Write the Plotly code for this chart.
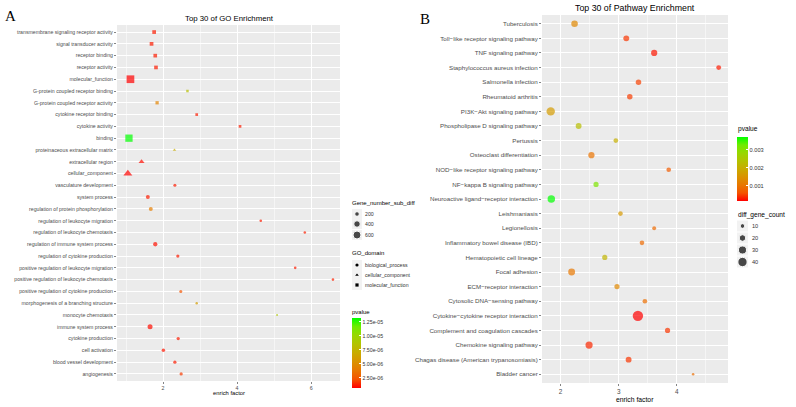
import plotly.graph_objects as go

W, H = 796, 407

# ---------------- Panel A: GO enrichment ----------------
go_terms = [
    "transmembrane signaling receptor activity", "signal transducer activity", "receptor binding",
    "receptor activity", "molecular_function", "G-protein coupled receptor binding",
    "G-protein coupled receptor activity", "cytokine receptor binding", "cytokine activity", "binding",
    "proteinaceous extracellular matrix", "extracellular region", "cellular_component",
    "vasculature development", "system process", "regulation of protein phosphorylation",
    "regulation of leukocyte migration", "regulation of leukocyte chemotaxis",
    "regulation of immune system process", "regulation of cytokine production",
    "positive regulation of leukocyte migration", "positive regulation of leukocyte chemotaxis",
    "positive regulation of cytokine production", "morphogenesis of a branching structure",
    "monocyte chemotaxis", "immune system process", "cytokine production", "cell activation",
    "blood vessel development", "angiogenesis",
]
go_enrich = [1.76, 1.69, 1.79, 1.81, 1.12, 2.66, 1.84, 2.91, 4.08, 1.08,
             2.31, 1.42, 1.05, 2.32, 1.59, 1.67, 4.64, 5.83, 1.79, 2.40,
             5.57, 6.59, 2.48, 2.91, 5.08, 1.65, 2.41, 2.01, 2.32, 2.49]
go_genes = [130, 130, 125, 125, 560, 60, 100, 68, 68, 500,
            85, 255, 570, 85, 150, 150, 63, 60, 175, 100,
            63, 60, 85, 58, 25, 235, 100, 115, 100, 100]
go_pvalue = [1.2e-6, 1.2e-6, 1.2e-6, 1.2e-6, 7.0e-7, 8.2e-6, 4.5e-6, 1.2e-6, 1.2e-6, 1.32e-5,
             7.0e-6, 9.0e-7, 7.5e-7, 1.2e-6, 1.2e-6, 4.2e-6, 1.2e-6, 1.3e-6, 1.0e-6, 1.2e-6,
             1.2e-6, 1.3e-6, 2.3e-6, 6.0e-6, 8.8e-6, 9.0e-7, 1.2e-6, 1.1e-6, 1.2e-6, 1.8e-6]
go_domain = (["molecular_function"] * 10 + ["cellular_component"] * 3 + ["biological_process"] * 17)

go_domain_levels = ["biological_process", "cellular_component", "molecular_function"]
go_size_breaks = [200, 400, 600]
go_p_ticks = [2.5e-6, 5.0e-6, 7.5e-6, 1.0e-5, 1.25e-5]
go_p_labels = ["2.50e-06", "5.00e-06", "7.50e-06", "1.00e-05", "1.25e-05"]

# ---------------- Panel B: KEGG pathway enrichment ----------------
kegg_terms = [
    "Tuberculosis", "Toll\u2212like receptor signaling pathway", "TNF signaling pathway",
    "Staphylococcus aureus infection", "Salmonella infection", "Rheumatoid arthritis",
    "PI3K\u2212Akt signaling pathway", "Phospholipase D signaling pathway", "Pertussis",
    "Osteoclast differentiation", "NOD\u2212like receptor signaling pathway",
    "NF\u2212kappa B signaling pathway", "Neuroactive ligand\u2212receptor interaction",
    "Leishmaniasis", "Legionellosis", "Inflammatory bowel disease (IBD)",
    "Hematopoietic cell lineage", "Focal adhesion", "ECM\u2212receptor interaction",
    "Cytosolic DNA\u2212sensing pathway", "Cytokine\u2212cytokine receptor interaction",
    "Complement and coagulation cascades", "Chemokine signaling pathway",
    "Chagas disease (American trypanosomiasis)", "Bladder cancer",
]
kegg_enrich = [2.24, 3.13, 3.61, 4.72, 3.34, 3.19, 1.83, 2.31, 2.95, 2.53,
               3.86, 2.61, 1.84, 3.03, 3.61, 3.40, 2.76, 2.19, 2.97, 3.45,
               3.33, 3.84, 2.49, 3.17, 4.28]
kegg_count = [20, 16, 18, 11, 14, 14, 33, 16, 10, 18,
              10, 12.5, 26, 10, 7, 10, 12.5, 22, 12.5, 10,
              50, 12.5, 24, 16, 3]
kegg_pvalue = [0.00133, 0.00044, 0.00027, 0.00030, 0.00050, 0.00048, 0.00165, 0.00230, 0.00200, 0.00100,
               0.00070, 0.00310, 0.00370, 0.00160, 0.00087, 0.00087, 0.00210, 0.00105, 0.00130, 0.00094,
               0.00016, 0.00044, 0.00037, 0.00044, 0.00094]

kegg_size_breaks = [10, 20, 30, 40]
kegg_p_ticks = [0.001, 0.002, 0.003]
kegg_p_labels = ["0.001", "0.002", "0.003"]

# ---------------- styling ----------------
FONT = "Liberation Sans, Arial, sans-serif"
GRAY_TXT = "#4D4D4D"
PANEL_BG = "#EBEBEB"
SCALE = [[0.0, "#FF0000"], [0.125, "#F45300"], [0.25, "#E87700"], [0.375, "#DA9200"],
         [0.5, "#C9AB00"], [0.625, "#B3C200"], [0.75, "#98D700"], [0.875, "#70EB00"],
         [1.0, "#00FF00"]]
SYMBOLS = {"biological_process": "circle", "cellular_component": "triangle-up",
           "molecular_function": "square"}
# plotly area mode: diameter = sqrt(2 * v / sizeref)
SIZEREF_A = 2 * 600 / 8.0 ** 2
SIZEREF_B = 2 * 40 / 9.3 ** 2


def px(x):
    return x / W


def py(y):
    return 1 - y / H


fig = go.Figure()

# Panel A points
for dom in go_domain_levels:
    idx = [i for i, d in enumerate(go_domain) if d == dom]
    fig.add_trace(go.Scatter(
        x=[go_enrich[i] for i in idx], y=[go_terms[i] for i in idx],
        mode="markers", xaxis="x", yaxis="y", showlegend=False,
        marker=dict(symbol=SYMBOLS[dom], size=[go_genes[i] for i in idx],
                    sizemode="area", sizeref=SIZEREF_A, sizemin=1,
                    color=[go_pvalue[i] for i in idx], coloraxis="coloraxis",
                    line=dict(width=0)),
    ))

# Panel B points
fig.add_trace(go.Scatter(
    x=kegg_enrich, y=kegg_terms, mode="markers", xaxis="x2", yaxis="y2", showlegend=False,
    marker=dict(symbol="circle", size=kegg_count, sizemode="area", sizeref=SIZEREF_B, sizemin=1,
                color=kegg_pvalue, coloraxis="coloraxis2", line=dict(width=0)),
))

shapes = []
annotations = []


def key_bg(xc, yc, s=10):
    shapes.append(dict(type="rect", xref="x3", yref="y3", x0=xc - s / 2, x1=xc + s / 2,
                       y0=yc - s / 2, y1=yc + s / 2, fillcolor="#F2F2F2", line=dict(width=0),
                       layer="below"))


def txt(x, y, s, size, color="black", xanchor="left", family=FONT):
    annotations.append(dict(x=px(x), y=py(y), xref="paper", yref="paper", text=s,
                            showarrow=False, xanchor=xanchor, yanchor="middle",
                            font=dict(family=family, size=size, color=color)))


# A: size legend
a_size_y = [214, 224, 235]
for yy in a_size_y:
    key_bg(357, yy, 10)
fig.add_trace(go.Scatter(x=[357] * 3, y=a_size_y, mode="markers", xaxis="x3", yaxis="y3",
                         showlegend=False, hoverinfo="skip",
                         marker=dict(size=go_size_breaks, sizemode="area", sizeref=SIZEREF_A,
                                     color="black", symbol="circle")))
txt(350, 203, "Gene_number_sub_diff", 6)
for yy, b in zip(a_size_y, go_size_breaks):
    txt(363, yy, str(b), 5.2, "#333333")

# A: shape legend
a_dom_y = [265, 275, 285]
for yy in a_dom_y:
    key_bg(357, yy, 10)
fig.add_trace(go.Scatter(x=[357] * 3, y=a_dom_y, mode="markers", xaxis="x3", yaxis="y3",
                         showlegend=False, hoverinfo="skip",
                         marker=dict(size=3.2, color="black",
                                     symbol=[SYMBOLS[d] for d in go_domain_levels])))
txt(350, 253, "GO_domain", 6)
for yy, d in zip(a_dom_y, go_domain_levels):
    txt(363, yy, d, 5.2, "#333333")

txt(350, 312, "pvalue", 6)

# B: size legend
b_size_y = [226, 238, 250, 262]
for yy in b_size_y:
    key_bg(742.5, yy, 11)
fig.add_trace(go.Scatter(x=[742.5] * 4, y=b_size_y, mode="markers", xaxis="x3", yaxis="y3",
                         showlegend=False, hoverinfo="skip",
                         marker=dict(size=kegg_size_breaks, sizemode="area", sizeref=SIZEREF_B,
                                     color="black", symbol="circle")))
txt(736, 215, "diff_gene_count", 6.6)
for yy, b in zip(b_size_y, kegg_size_breaks):
    txt(750, yy, str(b), 5.6, "#333333")
txt(736, 129, "pvalue", 6.6)

# Panel titles, axis titles, panel letters
txt(229, 18, "Top 30 of GO Enrichment", 7.8, "black", "center")
txt(635, 7.5, "Top 30 of Pathway Enrichment", 8.8, "black", "center")
txt(229, 393, "enrich factor", 5.8, "black", "center")
txt(635, 399, "enrich factor", 6.8, "black", "center")
txt(3, 16, "A", 15, "black", "left", "Liberation Serif, Times New Roman, serif")
txt(418, 19, "B", 15, "black", "left", "Liberation Serif, Times New Roman, serif")

for xr, yr in (("x", "y"), ("x2", "y2")):
    shapes.append(dict(type="rect", xref=xr + " domain", yref=yr + " domain", x0=0, x1=1, y0=0, y1=1,
                       fillcolor=PANEL_BG, line=dict(width=0), layer="below"))

nA, nB = len(go_terms), len(kegg_terms)

common_x = dict(showgrid=True, gridcolor="white", gridwidth=1, zeroline=False, showline=False,
                ticks="outside", ticklen=2, tickwidth=0.6, tickcolor="#333333")
common_y = dict(type="category", showgrid=True, gridcolor="white", gridwidth=1, zeroline=False,
                showline=False, ticks="outside", ticklen=2, tickwidth=0.6, tickcolor="#333333")

fig.update_layout(
    width=W, height=H, autosize=False,
    margin=dict(l=0, r=0, t=0, b=0),
    paper_bgcolor="white", plot_bgcolor="rgba(0,0,0,0)",
    font=dict(family=FONT),
    xaxis=dict(common_x, domain=[px(117), px(340)], range=[0.757, 6.78], anchor="y",
               tick0=0, dtick=2, tickfont=dict(size=5.3, color=GRAY_TXT),
               minor=dict(tick0=0, dtick=1, showgrid=True, gridcolor="white", gridwidth=0.5, ticks="")),
    yaxis=dict(common_y, domain=[py(381), py(25)], anchor="x",
               categoryorder="array", categoryarray=go_terms, range=[nA - 1 + 0.6, -0.6],
               tickfont=dict(size=5.2, color=GRAY_TXT)),
    xaxis2=dict(common_x, domain=[px(542), px(728)], range=[1.68, 4.88], anchor="y2",
                tick0=0, dtick=1, tickfont=dict(size=6.4, color=GRAY_TXT),
                minor=dict(tick0=0, dtick=0.5, showgrid=True, gridcolor="white", gridwidth=0.5, ticks="")),
    yaxis2=dict(common_y, domain=[py(383), py(15)], anchor="x2",
                categoryorder="array", categoryarray=kegg_terms, range=[nB - 1 + 0.6, -0.6],
                tickfont=dict(size=6.2, color=GRAY_TXT)),
    xaxis3=dict(domain=[0, 1], range=[0, W], visible=False, fixedrange=True, anchor="y3"),
    yaxis3=dict(domain=[0, 1], range=[H, 0], visible=False, fixedrange=True, anchor="x3"),
    coloraxis=dict(
        colorscale=SCALE, cmin=min(go_pvalue), cmax=max(go_pvalue),
        colorbar=dict(x=px(352), xanchor="left", xpad=0, y=py(318), yanchor="top", ypad=0,
                      len=70, lenmode="pixels", thickness=9, thicknessmode="pixels",
                      outlinewidth=0, tickmode="array", tickvals=go_p_ticks, ticktext=go_p_labels,
                      ticks="inside", ticklen=2, tickcolor="white",
                      tickfont=dict(size=5.2, color="#333333"), title=dict(text=""))),
    coloraxis2=dict(
        colorscale=SCALE, cmin=min(kegg_pvalue), cmax=max(kegg_pvalue),
        colorbar=dict(x=px(737), xanchor="left", xpad=0, y=py(137), yanchor="top", ypad=0,
                      len=64, lenmode="pixels", thickness=11, thicknessmode="pixels",
                      outlinewidth=0, tickmode="array", tickvals=kegg_p_ticks, ticktext=kegg_p_labels,
                      ticks="inside", ticklen=2, tickcolor="white",
                      tickfont=dict(size=5.6, color="#333333"), title=dict(text=""))),
    shapes=shapes,
    annotations=annotations,
    hovermode=False,
)

fig.write_html("out.html", config={"displayModeBar": False, "staticPlot": True},
               post_script="document.body.style.margin='0';document.body.style.overflow='hidden';")
